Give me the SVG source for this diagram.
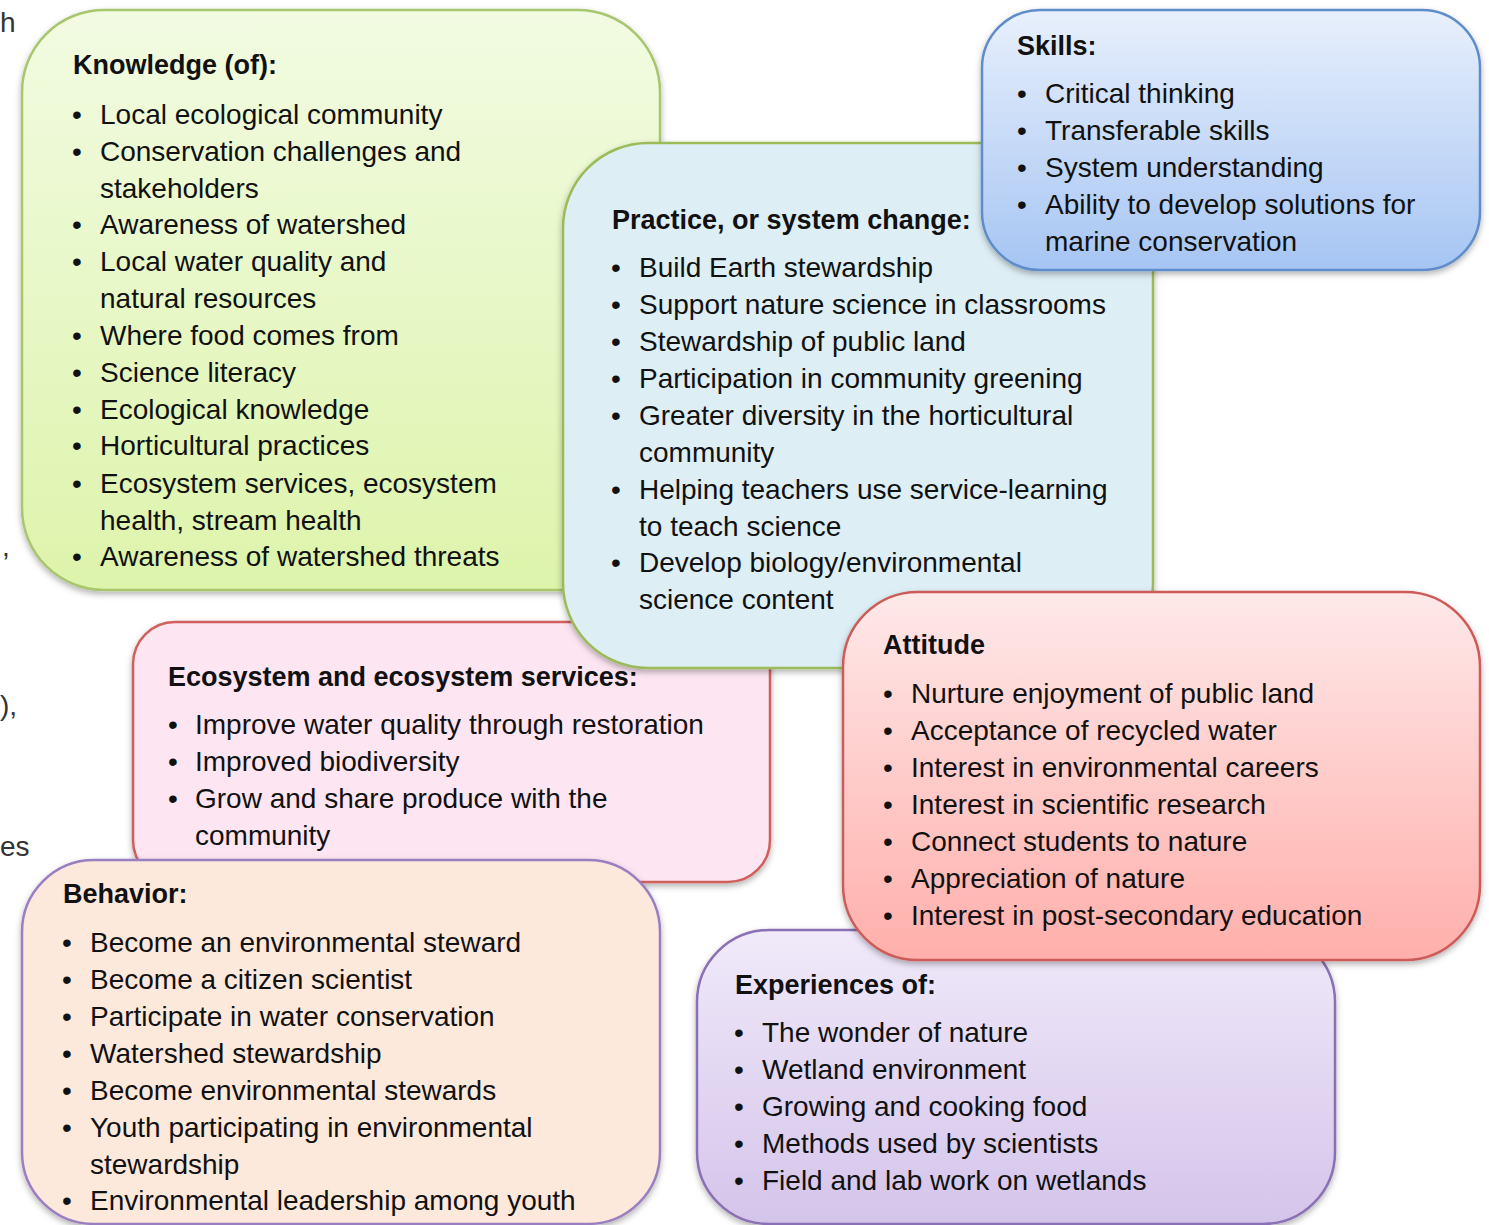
<svg xmlns="http://www.w3.org/2000/svg" width="1489" height="1225" viewBox="0 0 1489 1225">
<defs>
<linearGradient id="gK" x1="0" y1="0" x2="0" y2="1"><stop offset="0" stop-color="#f2fbe2"/><stop offset="1" stop-color="#ddf4ab"/></linearGradient>
<linearGradient id="gS" x1="0" y1="0" x2="0" y2="1"><stop offset="0" stop-color="#e8f0fc"/><stop offset="1" stop-color="#a6c5f3"/></linearGradient>
<linearGradient id="gA" x1="0" y1="0" x2="0" y2="1"><stop offset="0" stop-color="#fee9e9"/><stop offset="1" stop-color="#ffafab"/></linearGradient>
<linearGradient id="gX" x1="0" y1="0" x2="0" y2="1"><stop offset="0" stop-color="#f0eafa"/><stop offset="1" stop-color="#d4c4ea"/></linearGradient>
<filter id="sh" x="-5%" y="-5%" width="110%" height="115%"><feDropShadow dx="0" dy="3" stdDeviation="3" flood-color="#000" flood-opacity="0.3"/></filter>
</defs>
<style>
text{font-family:"Liberation Sans",Arial,sans-serif;font-size:28px;fill:#111}
.t{font-weight:bold;font-size:27px}
.f{fill:#333}
.box{stroke-width:2.5;filter:url(#sh)}
</style>
<g id="fragments">
<text class="f" x="0" y="32">h</text>
<text class="f" x="2" y="556">,</text>
<text class="f" x="0" y="715">),</text>
<text class="f" x="0" y="856">es</text>
</g>
<g id="connectors"></g>
<g id="knowledge">
<rect class="box" x="22" y="10" width="638" height="580" rx="82" fill="url(#gK)" stroke="#a8c66e"/>
<text class="t" x="73" y="74">Knowledge (of):</text>
<text x="72" y="124">•</text><text x="100" y="124">Local ecological community</text>
<text x="72" y="161">•</text><text x="100" y="161">Conservation challenges and</text>
<text x="100" y="198">stakeholders</text>
<text x="72" y="234">•</text><text x="100" y="234">Awareness of watershed</text>
<text x="72" y="271">•</text><text x="100" y="271">Local water quality and</text>
<text x="100" y="308">natural resources</text>
<text x="72" y="345">•</text><text x="100" y="345">Where food comes from</text>
<text x="72" y="382">•</text><text x="100" y="382">Science literacy</text>
<text x="72" y="419">•</text><text x="100" y="419">Ecological knowledge</text>
<text x="72" y="455">•</text><text x="100" y="455">Horticultural practices</text>
<text x="72" y="493">•</text><text x="100" y="493">Ecosystem services, ecosystem</text>
<text x="100" y="530">health, stream health</text>
<text x="72" y="566">•</text><text x="100" y="566">Awareness of watershed threats</text>
</g>
<g id="ecosystem">
<rect class="box" x="133" y="622" width="637" height="260" rx="42" fill="#fde6f2" stroke="#d0605c"/>
<text class="t" x="168" y="686">Ecosystem and ecosystem services:</text>
<text x="168" y="734">•</text><text x="195" y="734">Improve water quality through restoration</text>
<text x="168" y="771">•</text><text x="195" y="771">Improved biodiversity</text>
<text x="168" y="808">•</text><text x="195" y="808">Grow and share produce with the</text>
<text x="195" y="845">community</text>
</g>
<g id="practice">
<rect class="box" x="563" y="143" width="590" height="525" rx="85" fill="#ddeef5" stroke="#9bbb59"/>
<text class="t" x="612" y="229">Practice, or system change:</text>
<text x="611" y="277">•</text><text x="639" y="277">Build Earth stewardship</text>
<text x="611" y="314">•</text><text x="639" y="314">Support nature science in classrooms</text>
<text x="611" y="351">•</text><text x="639" y="351">Stewardship of public land</text>
<text x="611" y="388">•</text><text x="639" y="388">Participation in community greening</text>
<text x="611" y="425">•</text><text x="639" y="425">Greater diversity in the horticultural</text>
<text x="639" y="462">community</text>
<text x="611" y="499">•</text><text x="639" y="499">Helping teachers use service-learning</text>
<text x="639" y="536">to teach science</text>
<text x="611" y="572">•</text><text x="639" y="572">Develop biology/environmental</text>
<text x="639" y="609">science content</text>
</g>
<g id="skills">
<rect class="box" x="982" y="10" width="498" height="260" rx="58" fill="url(#gS)" stroke="#5f8dca"/>
<text class="t" x="1017" y="55">Skills:</text>
<text x="1017" y="103">•</text><text x="1045" y="103">Critical thinking</text>
<text x="1017" y="140">•</text><text x="1045" y="140">Transferable skills</text>
<text x="1017" y="177">•</text><text x="1045" y="177">System understanding</text>
<text x="1017" y="214">•</text><text x="1045" y="214">Ability to develop solutions for</text>
<text x="1045" y="251">marine conservation</text>
</g>
<g id="experiences">
<rect class="box" x="697" y="930" width="638" height="294" rx="72" fill="url(#gX)" stroke="#8a6fb5"/>
<text class="t" x="735" y="994">Experiences of:</text>
<text x="734" y="1042">•</text><text x="762" y="1042">The wonder of nature</text>
<text x="734" y="1079">•</text><text x="762" y="1079">Wetland environment</text>
<text x="734" y="1116">•</text><text x="762" y="1116">Growing and cooking food</text>
<text x="734" y="1153">•</text><text x="762" y="1153">Methods used by scientists</text>
<text x="734" y="1190">•</text><text x="762" y="1190">Field and lab work on wetlands</text>
</g>
<g id="attitude">
<rect class="box" x="843" y="592" width="637" height="368" rx="75" fill="url(#gA)" stroke="#cd5c58"/>
<text class="t" x="883" y="654">Attitude</text>
<text x="883" y="703">•</text><text x="911" y="703">Nurture enjoyment of public land</text>
<text x="883" y="740">•</text><text x="911" y="740">Acceptance of recycled water</text>
<text x="883" y="777">•</text><text x="911" y="777">Interest in environmental careers</text>
<text x="883" y="814">•</text><text x="911" y="814">Interest in scientific research</text>
<text x="883" y="851">•</text><text x="911" y="851">Connect students to nature</text>
<text x="883" y="888">•</text><text x="911" y="888">Appreciation of nature</text>
<text x="883" y="925">•</text><text x="911" y="925">Interest in post-secondary education</text>
</g>
<g id="behavior">
<rect class="box" x="22" y="860" width="638" height="364" rx="72" fill="#fde9dc" stroke="#9a7fc0"/>
<text class="t" x="63" y="903">Behavior:</text>
<text x="62" y="952">•</text><text x="90" y="952">Become an environmental steward</text>
<text x="62" y="989">•</text><text x="90" y="989">Become a citizen scientist</text>
<text x="62" y="1026">•</text><text x="90" y="1026">Participate in water conservation</text>
<text x="62" y="1063">•</text><text x="90" y="1063">Watershed stewardship</text>
<text x="62" y="1100">•</text><text x="90" y="1100">Become environmental stewards</text>
<text x="62" y="1137">•</text><text x="90" y="1137">Youth participating in environmental</text>
<text x="90" y="1174">stewardship</text>
<text x="62" y="1210">•</text><text x="90" y="1210">Environmental leadership among youth</text>
</g>
</svg>
